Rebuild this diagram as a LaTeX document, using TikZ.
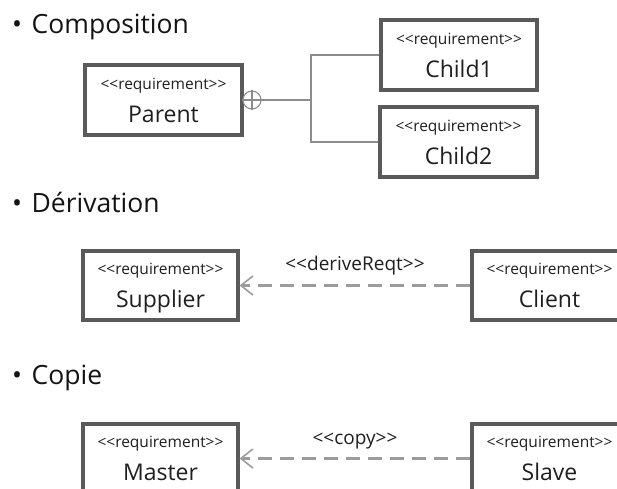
\documentclass[tikz,border=0pt]{standalone}
\usepackage{fontspec}
\setmainfont{Open Sans}[Ligatures={TeXOff,NoCommon}]
\usepackage{xcolor}
\usetikzlibrary{arrows.meta,positioning}

\definecolor{boxgray}{HTML}{5A5A5A}
\definecolor{linegray}{HTML}{8C8C8C}
\definecolor{dashgray}{HTML}{9C9C9C}
\newcommand{\stereo}[1]{\textless\textless #1\textgreater\textgreater}
\newcommand{\req}[1]{{\fontsize{15.5}{16}\selectfont\stereo{requirement}}\\{\smash{#1}}}

\begin{document}
\begin{tikzpicture}[
    x=1pt,y=-1pt,
    r/.style={draw=boxgray, line width=3.2pt, align=center, inner sep=0pt,
              minimum width=155pt, minimum height=69pt, text=black!88,
              font=\fontsize{23}{33}\selectfont},
    h/.style={anchor=base west, font=\fontsize{26.5}{30}\selectfont, inner sep=0pt, text=black!92},
    dep/.style={-{Straight Barb[length=12pt,width=19pt,line width=1.6pt]}, dashgray,
                line width=2.4pt, dash pattern=on 14pt off 8pt},
    lbl/.style={font=\fontsize{19}{21}\selectfont, text=black!88, inner sep=0pt}
]
\useasboundingbox (0,0) rectangle (617,488);

% Composition
\node[h] (hcomp) at (12,33) {\textbullet\hspace{9.5pt}Composition};
\node[r, minimum width=157pt, minimum height=70pt] (parent) at (163.5,100) {\req{Parent}};
\node[r, minimum width=156pt, minimum height=70pt] (child1) at (459,55) {\req{Child1}};
\node[r, minimum width=157pt, minimum height=70pt] (child2) at (458.5,142) {\req{Child2}};
\node[draw=linegray, circle, minimum size=18pt, inner sep=0pt, line width=1.1pt] (comp) at (252,100) {};
\draw[linegray, line width=1.1pt] (comp.north) -- (comp.south) (comp.west) -- (comp.east);
\coordinate (split) at (311,100);
\draw[linegray, line width=1.1pt] (comp.east) -- (split);
\draw[linegray, line width=1.1pt] (child1.west) -| (split) |- (child2.west);

% Derivation
\node[h] (hderiv) at (12,212) {\textbullet\hspace{9.5pt}Dérivation};
\node[r] (supplier) at (160.5,285.5) {\req{Supplier}};
\node[r] (client) at (549.5,285.5) {\req{Client}};
\draw[dep] (client) -- (supplier) node[lbl, midway, above=9pt] {\stereo{deriveReqt}};

% Copy
\node[h] (hcopy) at (12,384) {\textbullet\hspace{9.5pt}Copie};
\node[r] (master) at (160.5,458.5) {\req{Master}};
\node[r] (slave) at (549.5,458.5) {\req{Slave}};
\draw[dep] (slave) -- (master) node[lbl, midway, above=8pt] {\stereo{copy}};
\end{tikzpicture}
\end{document}
